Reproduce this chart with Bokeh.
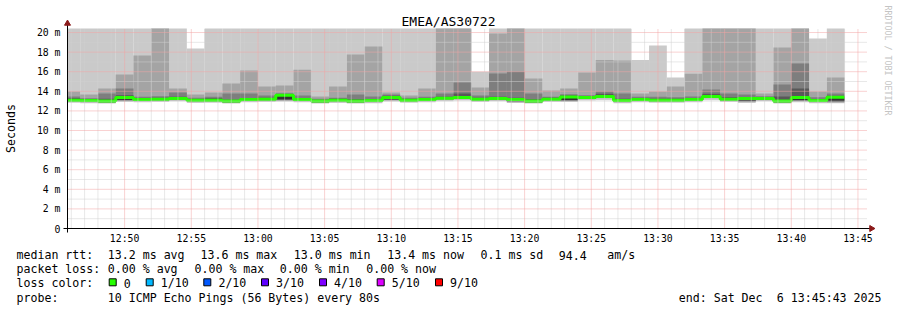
import math
from datetime import datetime, timedelta
from bokeh.plotting import figure
from bokeh.models import Range1d
from bokeh.core.properties import value
from bokeh.embed import file_html
from bokeh.resources import INLINE

# ---------------- data ----------------
title_text = "EMEA/AS30722"
view_start = "2025-12-06 12:45:43"
view_end = "2025-12-06 13:45:43"
first_step = "2025-12-06 12:45:20"
step_seconds = 80

# median rtt per 80 s step (ms)
median = [13.10, 13.05, 13.00, 13.37, 13.16, 13.20, 13.27, 13.10, 13.10, 13.00,
          13.16, 13.20, 13.60, 13.16, 13.00, 13.10, 13.00, 13.05, 13.37, 13.10,
          13.16, 13.30, 13.37, 13.20, 13.27, 13.16, 13.00, 13.20, 13.42, 13.37,
          13.47, 13.05, 13.16, 13.10, 13.10, 13.16, 13.47, 13.20, 13.27, 13.27,
          13.00, 13.37, 13.05, 13.40]
# sorted pings (ms), rank 1 = fastest, rank 10 = slowest
ping1 = [12.83, 12.78, 12.76, 12.90, 12.88, 12.92, 12.98, 12.80, 12.83, 12.76,
         12.88, 12.92, 12.95, 12.88, 12.76, 12.82, 12.76, 12.78, 12.95, 12.83,
         12.88, 12.98, 13.05, 12.92, 12.98, 12.80, 12.76, 12.92, 12.90, 13.05,
         13.10, 12.78, 12.88, 12.83, 12.83, 12.88, 13.10, 12.92, 12.82, 12.98,
         12.76, 12.88, 12.78, 12.78]
ping2 = [12.93, 12.88, 12.83, 13.02, 12.99, 13.03, 13.10, 12.93, 12.93, 12.83,
         12.99, 13.03, 13.05, 12.99, 12.83, 12.93, 12.83, 12.88, 13.07, 12.93,
         12.99, 13.13, 13.20, 13.03, 13.10, 12.89, 12.83, 13.03, 12.99, 13.20,
         13.30, 12.88, 12.99, 12.93, 12.93, 12.99, 13.30, 13.03, 12.92, 13.10,
         12.83, 12.99, 12.88, 12.87]
ping3 = [12.98, 12.93, 12.88, 13.07, 13.04, 13.08, 13.15, 12.98, 12.98, 12.88,
         13.04, 13.08, 13.10, 13.04, 12.88, 12.98, 12.88, 12.93, 13.12, 12.98,
         13.04, 13.18, 13.25, 13.08, 13.15, 12.94, 12.88, 13.08, 13.04, 13.25,
         13.35, 12.93, 13.04, 12.98, 12.98, 13.04, 13.35, 13.08, 12.97, 13.15,
         12.88, 13.04, 12.93, 12.92]
ping4 = [13.02, 12.97, 12.92, 13.11, 13.08, 13.12, 13.19, 13.02, 13.02, 12.92,
         13.08, 13.12, 13.16, 13.08, 12.92, 13.02, 12.92, 12.97, 13.16, 13.02,
         13.08, 13.22, 13.29, 13.12, 13.19, 12.98, 12.92, 13.12, 13.08, 13.29,
         13.39, 12.97, 13.08, 13.02, 13.02, 13.08, 13.39, 13.12, 13.01, 13.19,
         12.92, 13.08, 12.97, 12.96]
ping5 = [13.06, 13.01, 12.96, 13.15, 13.12, 13.16, 13.23, 13.06, 13.06, 12.96,
         13.12, 13.16, 13.20, 13.12, 12.96, 13.06, 12.96, 13.01, 13.20, 13.06,
         13.12, 13.26, 13.33, 13.16, 13.23, 13.02, 12.96, 13.16, 13.12, 13.33,
         13.43, 13.01, 13.12, 13.06, 13.06, 13.12, 13.43, 13.16, 13.05, 13.23,
         12.96, 13.12, 13.01, 13.00]
ping6 = [13.14, 13.09, 13.04, 13.41, 13.20, 13.24, 13.31, 13.14, 13.14, 13.04,
         13.20, 13.24, 13.64, 13.20, 13.04, 13.14, 13.04, 13.09, 13.41, 13.14,
         13.20, 13.34, 13.41, 13.24, 13.31, 13.20, 13.04, 13.24, 13.46, 13.41,
         13.51, 13.09, 13.20, 13.14, 13.14, 13.20, 13.51, 13.24, 13.31, 13.31,
         13.04, 13.41, 13.09, 13.44]
ping7 = [13.30, 13.20, 13.25, 13.60, 13.30, 13.35, 13.45, 13.22, 13.30, 13.15,
         13.30, 13.35, 13.72, 13.30, 13.12, 13.25, 13.18, 13.20, 13.55, 13.22,
         13.30, 13.45, 13.78, 13.35, 13.45, 13.35, 13.20, 13.35, 13.58, 13.50,
         13.75, 13.25, 13.30, 13.25, 13.25, 13.30, 13.75, 13.40, 13.42, 13.40,
         13.47, 14.29, 13.20, 13.55]
ping8 = [13.47, 13.30, 13.78, 14.29, 13.45, 13.50, 13.88, 13.35, 13.45, 13.78,
         13.78, 13.57, 13.80, 13.57, 13.25, 13.35, 13.67, 13.47, 13.67, 13.35,
         13.45, 13.78, 14.90, 13.57, 15.82, 16.00, 13.78, 13.45, 13.70, 13.60,
         13.98, 13.78, 13.45, 13.45, 13.40, 13.47, 14.18, 13.78, 13.67, 13.50,
         14.69, 16.84, 13.40, 13.78]
ping9 = [13.98, 13.67, 14.29, 15.71, 17.65, 22.40, 14.29, 13.67, 13.88, 14.80,
         16.12, 14.49, 14.60, 16.20, 13.47, 14.49, 17.76, 18.57, 13.88, 13.57,
         14.29, 21.90, 23.50, 14.39, 19.90, 22.10, 15.30, 14.08, 14.29, 15.92,
         17.20, 17.14, 13.78, 13.98, 14.49, 15.80, 24.00, 22.70, 21.30, 13.78,
         18.47, 22.90, 13.98, 15.41]
ping10 = [24.10, 22.80, 25.30, 23.60, 26.20, 27.90, 23.10, 18.37, 22.60, 24.80,
          25.10, 23.30, 22.40, 26.70, 21.90, 24.20, 27.30, 28.10, 22.50, 23.70,
          24.40, 29.60, 31.20, 16.00, 26.40, 30.10, 23.90, 22.80, 24.60, 25.50,
          27.80, 26.30, 17.20, 18.67, 15.40, 24.70, 33.40, 30.80, 29.20, 22.30,
          26.10, 31.70, 19.40, 24.90]

# summary legend values
rtt_avg, rtt_max, rtt_min, rtt_now, rtt_sd, rtt_ams = 13.2, 13.6, 13.0, 13.4, 0.1, 94.4
loss_avg, loss_max, loss_min, loss_now = 0.00, 0.00, 0.00, 0.00
loss_labels = ["0", "1/10", "2/10", "3/10", "4/10", "5/10", "9/10"]
loss_colors = ["#26ff00", "#00b8ff", "#0059ff", "#5e00ff", "#7e00ff", "#dd00ff", "#ff0000"]
probe_text = "10 ICMP Echo Pings (56 Bytes) every 80s"
end_text = "end: Sat Dec  6 13:45:43 2025"

x_tick_labels = ["12:50", "12:55", "13:00", "13:05", "13:10", "13:15",
                 "13:20", "13:25", "13:30", "13:35", "13:40", "13:45"]
y_tick_values = [0, 2, 4, 6, 8, 10, 12, 14, 16, 18, 20]
y_tick_labels = ["0", "2 m", "4 m", "6 m", "8 m", "10 m", "12 m", "14 m", "16 m", "18 m", "20 m"]
y_minor_values = [1, 3, 5, 7, 9, 11, 13, 15, 17, 19]

# ---------------- helpers ----------------
EPOCH = datetime(1970, 1, 1)


def ms(dt):
    return (dt - EPOCH).total_seconds() * 1000.0


def parse(s):
    return datetime.strptime(s, "%Y-%m-%d %H:%M:%S")


t_start = parse(view_start)
t_end = parse(view_end)
t_first = parse(first_step)
T0, T1 = ms(t_start), ms(t_end)
n = len(median)
lefts = [ms(t_first + timedelta(seconds=step_seconds * k)) for k in range(n)]
rights = [ms(t_first + timedelta(seconds=step_seconds * (k + 1))) for k in range(n)]
day = t_start.strftime("%Y-%m-%d")
x_ticks = [ms(parse(day + " " + lab + ":00")) for lab in x_tick_labels]
minor_x = []
t = t_start.replace(second=0) + timedelta(minutes=1)
while t < t_end:
    if ms(t) not in x_ticks:
        minor_x.append(ms(t))
    t += timedelta(minutes=1)

MONO = value("DejaVu Sans Mono")
Y_TOP = 20.41          # top of the graph area (ms)

# canvas geometry (pixels): graph area 67..867 x 28..228 inside an 897x310 canvas
W, H = 897, 310
GL, GR, GT, GB = 67, 867, 28, 228
ms_per_px = (T1 - T0) / (GR - GL)
val_per_px = Y_TOP / (GB - GT)

p = figure(width=W, height=H,
           x_range=Range1d(T0 - GL * ms_per_px, T1 + (W - GR) * ms_per_px),
           y_range=Range1d(-(H - GB) * val_per_px, GB * val_per_px),
           x_axis_type=None, y_axis_type=None,
           output_backend="svg", toolbar_location=None)
p.min_border = 0
p.min_border_left = p.min_border_right = p.min_border_top = p.min_border_bottom = 0
p.outline_line_color = None
p.background_fill_color = "white"
p.border_fill_color = "white"
p.extra_x_ranges = {"px": Range1d(0, W)}
p.extra_y_ranges = {"px": Range1d(H, 0)}

# ---- smoke (clipped to the graph area) ----
bands = [(ping1, ping10, "#cacaca"), (ping2, ping9, "#a4a4a4"),
         (ping3, ping8, "#7e7e7e"), (ping4, ping7, "#585858"),
         (ping5, ping6, "#323232")]
cl_left = [max(v, T0) for v in lefts]
for lo, hi, col in bands:
    p.quad(left=cl_left, right=rights,
           bottom=[min(v, Y_TOP) for v in lo], top=[min(v, Y_TOP) for v in hi],
           fill_color=col, line_color=None)

step_x = cl_left + [rights[-1]]
step_y = median + [median[-1]]
p.step(step_x, step_y, mode="after", line_color=loss_colors[0], line_width=3)

# ---- grid (drawn over the smoke, like rrdtool) ----
GRID_MINOR = "#d0d0d0"
GRID_MAJOR = "#f2a4a4"
p.segment(x0=minor_x, y0=[0] * len(minor_x), x1=minor_x, y1=[Y_TOP] * len(minor_x),
          line_color=GRID_MINOR, line_dash="1 1", line_width=1)
p.segment(x0=[T0] * len(y_minor_values), y0=y_minor_values,
          x1=[T1] * len(y_minor_values), y1=y_minor_values,
          line_color=GRID_MINOR, line_dash="1 1", line_width=1)
p.segment(x0=x_ticks, y0=[0] * len(x_ticks), x1=x_ticks, y1=[Y_TOP] * len(x_ticks),
          line_color=GRID_MAJOR, line_dash="1 1", line_width=1)
ymaj = [v for v in y_tick_values if v > 0]
p.segment(x0=[T0] * len(ymaj), y0=ymaj, x1=[T1] * len(ymaj), y1=ymaj,
          line_color=GRID_MAJOR, line_dash="1 1", line_width=1)

# ---- axes ----
p.segment(x0=[63, 67], y0=[228, 232], x1=[870, 67], y1=[228, 24],
          x_range_name="px", y_range_name="px", line_color="black", line_width=1)
p.scatter(x=[67, 871], y=[23, 228], marker="triangle", size=6,
          angle=[0, -math.pi / 2], fill_color="#8b1a1a", line_color="#8b1a1a",
          x_range_name="px", y_range_name="px")

p.text(x=x_ticks, y=[238] * len(x_ticks), text=x_tick_labels, y_range_name="px",
       text_font=MONO, text_font_size=value("9.8px"), text_color="black",
       text_align="center", text_baseline="middle")
p.text(x=[60] * len(y_tick_values), y=y_tick_values, text=y_tick_labels, x_range_name="px",
       text_font=MONO, text_font_size=value("9.8px"), text_color="black",
       text_align="right", text_baseline="middle")

# ---- title, unit, watermark ----
p.text(x=[448], y=[20.5], text=[title_text], x_range_name="px", y_range_name="px",
       text_font=MONO, text_font_size=value("13px"), text_color="black",
       text_align="center", text_baseline="middle")
p.text(x=[10.8], y=[128], text=["Seconds"], x_range_name="px", y_range_name="px",
       angle=math.pi / 2, text_font=MONO, text_font_size=value("11.6px"),
       text_color="black", text_align="center", text_baseline="middle")
p.text(x=[887.4], y=[5], text=["RRDTOOL / TOBI OETIKER"], x_range_name="px", y_range_name="px",
       angle=-math.pi / 2, text_font=MONO, text_font_size=value("8.3px"),
       text_color="#c4c4c4", text_align="left", text_baseline="middle")

# ---- legend ----
row_y = [254.5, 268.8, 282.8, 297]
seg_text = ["median rtt:", f"{rtt_avg:.1f} ms avg", f"{rtt_max:.1f} ms max",
            f"{rtt_min:.1f} ms min", f"{rtt_now:.1f} ms now", f"{rtt_sd:.1f} ms sd",
            f"{rtt_ams:.1f}", "am/s",
            "packet loss:", f"{loss_avg:.2f} % avg", f"{loss_max:.2f} % max",
            f"{loss_min:.2f} % min", f"{loss_now:.2f} % now",
            "loss color:",
            "probe:", probe_text]
seg_x = [16, 107.3, 200, 293.3, 386.7, 480, 558.3, 606.7,
         16, 107.3, 194, 279.3, 365.7,
         16,
         16, 107.3]
seg_row = [0] * 8 + [1] * 5 + [2] + [3] * 2
sq_x = [108.7, 145.7, 203.3, 261, 319, 376.7, 435]
for lab, sx in zip(loss_labels, sq_x):
    seg_text.append(lab)
    seg_x.append(sx + 14.6)
    seg_row.append(2)
# end stamp: keep the double space by splitting into two runs
end_parts = end_text.split("  ")
seg_text += [end_parts[0], end_parts[1]]
seg_x += [678.3, 678.3 + 14 * 7.0]
seg_row += [3, 3]

p.text(x=seg_x, y=[row_y[r] for r in seg_row], text=seg_text,
       x_range_name="px", y_range_name="px",
       text_font=MONO, text_font_size=value("11.6px"), text_color="black",
       text_baseline="middle", text_align="left")
p.quad(left=sq_x, right=[v + 7 for v in sq_x], top=[278.3] * len(sq_x),
       bottom=[285.3] * len(sq_x), fill_color=loss_colors, line_color="black",
       line_width=1, x_range_name="px", y_range_name="px")

open("out.html", "w").write(file_html(p, INLINE))
